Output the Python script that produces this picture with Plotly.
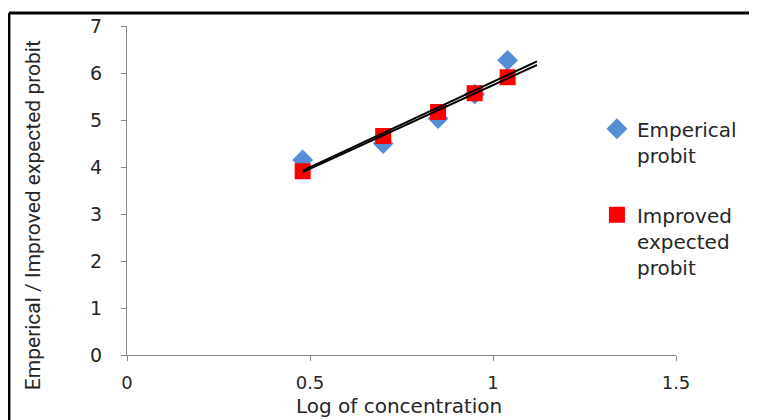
import numpy as np
import plotly.graph_objects as go

log_conc = [0.48, 0.70, 0.85, 0.95, 1.04]
emperical_probit = [4.15, 4.50, 5.03, 5.55, 6.27]
improved_probit = [3.91, 4.66, 5.17, 5.57, 5.91]
trend_x_range = [0.48, 1.12]
x_ticks = [0, 0.5, 1, 1.5]
x_tick_text = ["0", "0.5", "1", "1.5"]
y_ticks = [0, 1, 2, 3, 4, 5, 6, 7]

FONT = "DejaVu Sans"
AXIS_COLOR = "#868686"
TEXT_COLOR = "#262626"

fig = go.Figure()

fig.add_trace(go.Scatter(x=log_conc, y=emperical_probit, mode="markers",
                         name="Emperical<br>probit", legendgroup="a",
                         marker=dict(symbol="diamond", size=16, color="#558ED5")))
fig.add_trace(go.Scatter(x=log_conc, y=improved_probit, mode="markers",
                         name="Improved<br>expected<br>probit", legendgroup="b",
                         marker=dict(symbol="square", size=16, color="#FF0000")))

# linear trendlines (least-squares fits of each series)
for ys in (emperical_probit, improved_probit):
    m, c = np.polyfit(log_conc, ys, 1)
    tx = np.array(trend_x_range)
    fig.add_trace(go.Scatter(x=tx, y=m * tx + c, mode="lines",
                             line=dict(color="black", width=2),
                             showlegend=False, hoverinfo="skip"))

fig.update_layout(
    width=757, height=420,
    margin=dict(l=119, r=89, t=18, b=73, autoexpand=False),
    paper_bgcolor="white", plot_bgcolor="white",
    font=dict(family=FONT, size=19, color=TEXT_COLOR),
    showlegend=True,
    legend=dict(x=0.856, y=0.747, xanchor="left", yanchor="top",
                bgcolor="rgba(0,0,0,0)", font=dict(size=20, family=FONT, color=TEXT_COLOR),
                traceorder="grouped", tracegroupgap=31, valign="top",
                itemwidth=30),
    xaxis=dict(range=[0, 1.5], tickvals=x_ticks, ticktext=x_tick_text,
               showgrid=False, zeroline=False, showline=True, linecolor=AXIS_COLOR,
               linewidth=1, ticks="outside", ticklen=5, tickcolor=AXIS_COLOR,
               ticklabelstandoff=6, tickfont=dict(size=18)),
    yaxis=dict(range=[0, 7], tickvals=y_ticks,
               showgrid=False, zeroline=False, showline=True, linecolor=AXIS_COLOR,
               linewidth=1, ticks="outside", ticklen=5, tickcolor=AXIS_COLOR,
               ticklabelstandoff=15),
    annotations=[
        dict(text="Emperical / Improved expected probit", xref="paper", yref="paper",
             x=-0.171, y=0.4255, xanchor="center", yanchor="middle", textangle=-90,
             showarrow=False,
             font=dict(size=21, family="Liberation Sans Narrow, Roboto", color=TEXT_COLOR)),
        dict(text="Log of concentration", xref="paper", yref="paper",
             x=0.4954, y=-0.1955, xanchor="center", yanchor="bottom",
             showarrow=False, borderpad=0,
             font=dict(size=20, family=FONT, color=TEXT_COLOR)),
    ],
    shapes=[
        dict(type="line", xref="paper", yref="paper", x0=-0.215, x1=1.3, y0=1.0395, y1=1.0395,
             line=dict(color="black", width=3)),
        dict(type="line", xref="paper", yref="paper", x0=-0.215, x1=-0.215, y0=1.0395, y1=-0.4,
             line=dict(color="black", width=3)),
    ],
)

fig.write_html("out.html")
